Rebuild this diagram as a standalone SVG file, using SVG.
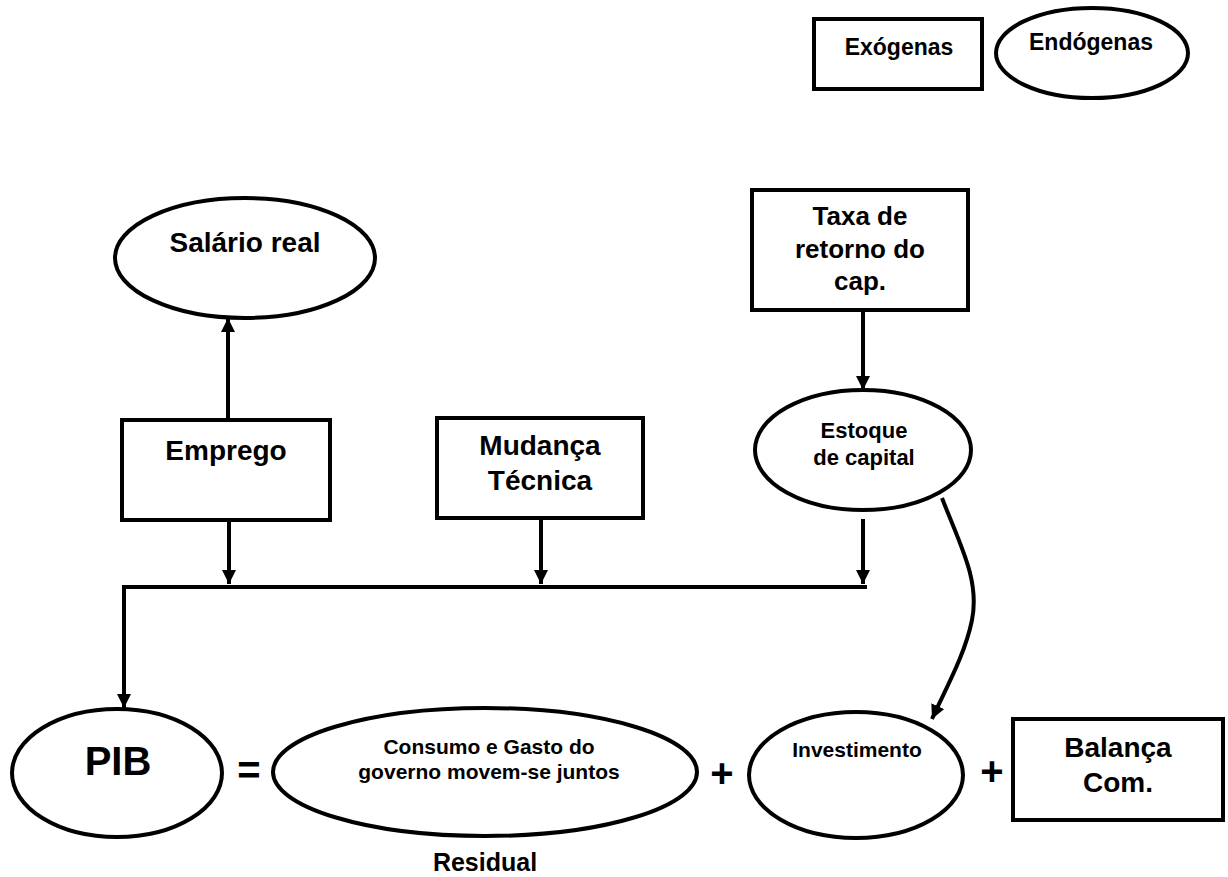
<svg xmlns="http://www.w3.org/2000/svg" width="1228" height="877" viewBox="0 0 1228 877">
<style>
.s{fill:#fff;stroke:#000;stroke-width:4}
.t{font-family:"Liberation Sans",Arial,sans-serif;font-weight:bold;fill:#000;text-anchor:middle}
.c{fill:none;stroke:#000;stroke-width:4}
</style>
<defs>
<marker id="ah" markerUnits="userSpaceOnUse" markerWidth="14" markerHeight="16" refX="14" refY="7" orient="auto">
<path d="M0,0 L14,7 L0,14 Z" fill="#000"/>
</marker>
</defs>
<rect width="1228" height="877" fill="#fff"/>
<g id="exogenas"><rect class="s" x="814" y="19" width="168" height="70"/><text class="t" x="899" y="55" font-size="23">Exógenas</text></g>
<g id="endogenas"><ellipse class="s" cx="1092" cy="53" rx="96" ry="45"/><text class="t" x="1091" y="50" font-size="23">Endógenas</text></g>
<g id="salario"><ellipse class="s" cx="245" cy="258" rx="130" ry="60"/><text class="t" x="245" y="252" font-size="28">Salário real</text></g>
<g id="emprego"><rect class="s" x="122" y="420" width="208" height="100"/><text class="t" x="226" y="460" font-size="28">Emprego</text></g>
<g id="mudanca"><rect class="s" x="437" y="418" width="206" height="100"/><text class="t" x="540" y="455" font-size="28">Mudança</text><text class="t" x="540" y="490" font-size="28">Técnica</text></g>
<g id="taxa"><rect class="s" x="752" y="190" width="216" height="120"/><text class="t" x="860" y="225" font-size="26">Taxa de</text><text class="t" x="860" y="258" font-size="26">retorno do</text><text class="t" x="860" y="290" font-size="26">cap.</text></g>
<g id="estoque"><ellipse class="s" cx="863" cy="450" rx="108" ry="60"/><text class="t" x="864" y="438" font-size="22">Estoque</text><text class="t" x="864" y="465" font-size="22">de capital</text></g>
<g id="pib"><ellipse class="s" cx="117" cy="773" rx="105" ry="64"/><text class="t" x="118" y="775" font-size="40">PIB</text></g>
<g id="consumo"><ellipse class="s" cx="485" cy="772" rx="212" ry="64"/><text class="t" x="489" y="754" font-size="21">Consumo e Gasto do</text><text class="t" x="489" y="779" font-size="21">governo movem-se juntos</text></g>
<g id="investimento"><ellipse class="s" cx="856" cy="775" rx="107" ry="63"/><text class="t" x="857" y="757" font-size="21">Investimento</text></g>
<g id="balanca"><rect class="s" x="1013" y="719" width="210" height="101"/><text class="t" x="1118" y="757" font-size="28">Balança</text><text class="t" x="1118" y="792" font-size="28">Com.</text></g>
<g id="operators">
<text class="t" x="249" y="784" font-size="40">=</text>
<text class="t" x="722" y="787" font-size="40">+</text>
<text class="t" x="992" y="785" font-size="40">+</text>
<text class="t" x="485" y="871" font-size="25">Residual</text>
</g>
<g id="connectors">
<line class="c" x1="228" y1="420" x2="228" y2="318" marker-end="url(#ah)"/>
<line class="c" x1="863" y1="310" x2="863" y2="390" marker-end="url(#ah)"/>
<line class="c" x1="229" y1="520" x2="229" y2="584" marker-end="url(#ah)"/>
<line class="c" x1="541" y1="518" x2="541" y2="584" marker-end="url(#ah)"/>
<line class="c" x1="863" y1="519" x2="863" y2="584" marker-end="url(#ah)"/>
<path class="c" d="M124,706 V587 H867"/>
<line class="c" x1="124" y1="690" x2="124" y2="708" marker-end="url(#ah)"/>
<path class="c" d="M942,498 C960,545 980,580 972,620 C965,655 945,690 932,719" marker-end="url(#ah)"/>
</g>
</svg>
